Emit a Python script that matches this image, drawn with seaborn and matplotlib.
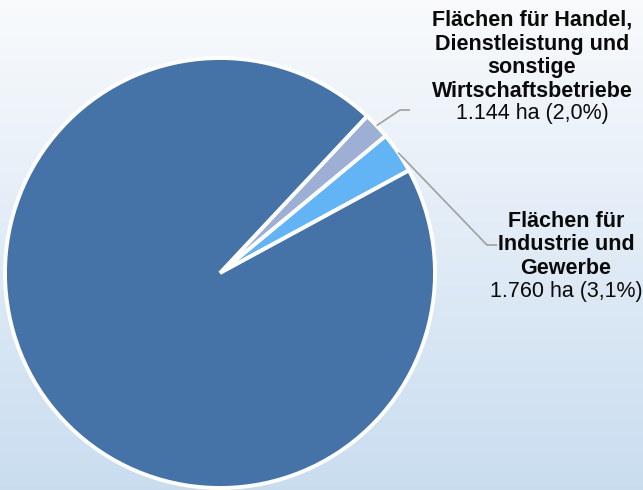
import numpy as np
import matplotlib.pyplot as plt
import seaborn as sns

# data
categories = ["Flächen für Industrie und Gewerbe",
              "Flächen für Handel, Dienstleistung und sonstige Wirtschaftsbetriebe",
              "Sonstige Flächen"]
hectares = [1760, 1144, 53900]
shares = [3.1, 2.0, 94.9]
label_titles = ["Flächen für\nIndustrie und\nGewerbe",
                "Flächen für Handel,\nDienstleistung und\nsonstige\nWirtschaftsbetriebe",
                None]
value_labels = ["1.760 ha (3,1%)", "1.144 ha (2,0%)", None]
colors = ["#62B4F4", "#9EAFD6", "#4673A7"]

sns.set_theme(style="white")
plt.rcParams["font.family"] = ["Liberation Sans", "DejaVu Sans"]

W, H = 643, 490
fig = plt.figure(figsize=(W / 100, H / 100), dpi=100)

# gradient background
bg = fig.add_axes([0, 0, 1, 1])
top = np.array([0.975, 0.982, 0.992])
bot = np.array([0.79, 0.866, 0.94])
t = np.linspace(0, 1, 256)[:, None]
grad = top[None, :] * (1 - t) + bot[None, :] * t
bg.imshow(grad[:, None, :], aspect="auto", extent=[0, 1, 0, 1])
bg.set_axis_off()

ax = fig.add_axes([0, 0, 1, 1])
ax.patch.set_alpha(0)
center = (220, 217)
radius = 215
wedges, _ = ax.pie(shares, colors=colors, startangle=28.5, counterclock=True,
                   center=center, radius=radius,
                   wedgeprops=dict(edgecolor="white", linewidth=2.8))
ax.set_xlim(0, W)
ax.set_ylim(0, H)
ax.set_aspect("equal")
ax.set_axis_off()

# label anchors: (elbow x, elbow y, text x, title center y, value y)
anchors = [(487, 245, 566, 245, 198),
           (400, 380, 532, 434, 377)]
for i, (ex, ey, tx, ty, vy) in enumerate(anchors):
    w = wedges[i]
    ang = np.deg2rad((w.theta1 + w.theta2) / 2)
    x0 = center[0] + radius * np.cos(ang)
    y0 = center[1] + radius * np.sin(ang)
    ax.plot([x0, ex, ex + 10], [y0, ey, ey], color="#A0A0A0", lw=1.2,
            solid_capstyle="butt")
    ax.text(tx, ty, label_titles[i], ha="center", va="center",
            fontsize=15.5, fontweight="bold", color="#0A0A0A", linespacing=1.18)
    ax.text(tx, vy, value_labels[i], ha="center", va="center",
            fontsize=15.5, color="#0A0A0A")

fig.savefig("out.png", dpi=100)
